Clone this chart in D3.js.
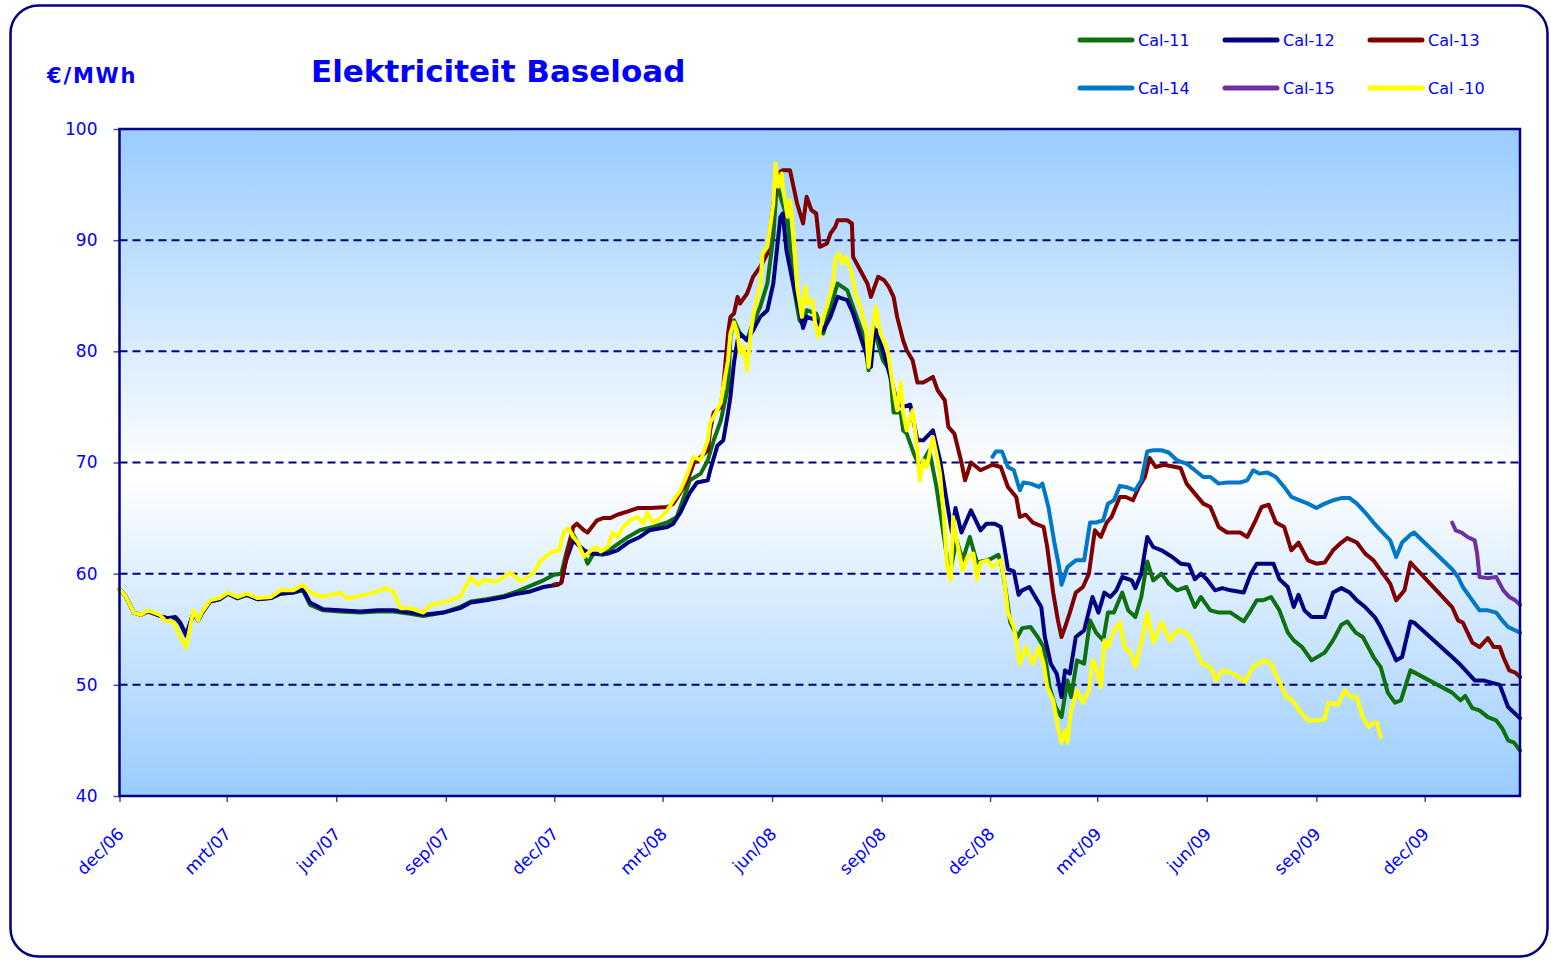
<!DOCTYPE html>
<html><head><meta charset="utf-8">
<script src="https://cdn.jsdelivr.net/npm/d3@7"></script>
<style>body{margin:0;background:#fff;} svg{display:block;}</style>
</head><body>
<svg id="chart" width="1551" height="961"></svg>
<script>
// ---------------- DATA ----------------
const seriesNames = ["Cal-11","Cal-12","Cal-13","Cal-14","Cal-15","Cal -10"];
const yTicks = [40,50,60,70,80,90,100];
const monthNamesNL = ["jan","feb","mrt","apr","mei","jun","jul","aug","sep","okt","nov","dec"];
const titleText = "Elektriciteit Baseload";
const unitText = "€/MWh";

const cal10 = [["2006-12-01",58.6],["2006-12-06",58.0],["2006-12-13",56.5],["2006-12-19",56.3],["2006-12-25",56.7],["2006-12-30",56.5],["2007-01-04",56.3],["2007-01-09",55.7],["2007-01-13",55.8],["2007-01-17",55.4],["2007-01-21",54.3],["2007-01-26",53.4],["2007-02-01",56.7],["2007-02-05",55.8],["2007-02-08",56.5],["2007-02-15",57.6],["2007-02-23",57.8],["2007-03-02",58.3],["2007-03-10",57.9],["2007-03-18",58.2],["2007-03-27",57.8],["2007-04-07",57.9],["2007-04-15",58.5],["2007-04-26",58.5],["2007-05-04",59.0],["2007-05-10",58.3],["2007-05-21",57.9],["2007-06-04",58.3],["2007-06-10",57.8],["2007-06-21",58.0],["2007-07-06",58.4],["2007-07-12",58.7],["2007-07-19",58.4],["2007-07-25",56.9],["2007-08-02",56.9],["2007-08-13",56.5],["2007-08-19",57.2],["2007-08-30",57.4],["2007-09-13",57.9],["2007-09-22",59.7],["2007-09-28",59.0],["2007-10-03",59.4],["2007-10-14",59.3],["2007-10-25",60.1],["2007-11-03",59.3],["2007-11-14",60.1],["2007-11-20",61.2],["2007-11-28",61.9],["2007-12-05",62.1],["2007-12-09",63.7],["2007-12-13",64.1],["2007-12-17",63.3],["2007-12-21",62.8],["2007-12-26",61.5],["2008-01-01",62.1],["2008-01-05",62.4],["2008-01-09",62.0],["2008-01-15",62.4],["2008-01-19",63.7],["2008-01-23",63.3],["2008-01-28",64.2],["2008-02-03",64.8],["2008-02-09",65.1],["2008-02-14",64.5],["2008-02-17",65.5],["2008-02-22",64.6],["2008-02-28",65.0],["2008-03-05",65.7],["2008-03-10",66.6],["2008-03-16",67.5],["2008-03-22",69.0],["2008-03-27",70.5],["2008-04-02",70.2],["2008-04-04",70.8],["2008-04-08",72.0],["2008-04-10",73.6],["2008-04-13",74.1],["2008-04-19",75.4],["2008-04-21",76.8],["2008-04-25",79.2],["2008-04-27",81.6],["2008-04-30",82.6],["2008-05-03",81.6],["2008-05-05",79.8],["2008-05-08",80.4],["2008-05-11",78.3],["2008-05-14",81.6],["2008-05-16",83.1],["2008-05-19",84.6],["2008-05-22",85.8],["2008-05-24",88.8],["2008-05-28",89.4],["2008-05-30",90.9],["2008-06-02",93.3],["2008-06-04",96.9],["2008-06-06",94.8],["2008-06-09",96.0],["2008-06-10",94.8],["2008-06-14",92.1],["2008-06-16",93.6],["2008-06-19",90.6],["2008-06-22",85.8],["2008-06-26",83.1],["2008-06-29",85.8],["2008-07-01",84.3],["2008-07-05",84.6],["2008-07-07",82.6],["2008-07-10",81.3],["2008-07-13",82.8],["2008-07-17",84.0],["2008-07-20",85.2],["2008-07-22",86.1],["2008-07-24",88.2],["2008-07-27",88.8],["2008-07-30",87.9],["2008-08-02",88.5],["2008-08-06",87.3],["2008-08-10",85.2],["2008-08-14",84.0],["2008-08-19",81.9],["2008-08-21",78.6],["2008-08-25",82.8],["2008-08-27",84.0],["2008-08-31",81.6],["2008-09-06",80.1],["2008-09-10",77.2],["2008-09-14",74.7],["2008-09-17",77.2],["2008-09-19",74.5],["2008-09-22",72.9],["2008-09-27",74.7],["2008-10-01",71.1],["2008-10-03",68.4],["2008-10-06",70.2],["2008-10-09",69.6],["2008-10-14",72.3],["2008-10-18",70.2],["2008-10-20",69.0],["2008-10-23",65.5],["2008-10-26",60.6],["2008-10-29",59.4],["2008-10-31",65.1],["2008-11-03",63.0],["2008-11-08",60.3],["2008-11-12",61.5],["2008-11-17",61.8],["2008-11-20",59.5],["2008-11-23",61.0],["2008-11-29",61.2],["2008-12-03",60.6],["2008-12-10",61.2],["2008-12-13",59.4],["2008-12-16",56.5],["2008-12-21",55.2],["2008-12-26",51.9],["2008-12-31",53.4],["2009-01-06",51.9],["2009-01-11",53.4],["2009-01-15",51.9],["2009-01-18",49.8],["2009-01-23",48.6],["2009-01-27",46.2],["2009-01-30",44.8],["2009-02-02",45.9],["2009-02-04",44.8],["2009-02-07",47.7],["2009-02-12",49.5],["2009-02-17",48.4],["2009-02-22",49.5],["2009-02-25",52.2],["2009-02-28",51.6],["2009-03-04",49.8],["2009-03-07",54.0],["2009-03-10",53.4],["2009-03-14",54.7],["2009-03-20",55.6],["2009-03-24",53.4],["2009-03-29",52.9],["2009-04-02",51.6],["2009-04-07",53.8],["2009-04-12",56.5],["2009-04-17",53.8],["2009-04-24",55.6],["2009-05-01",54.0],["2009-05-07",54.9],["2009-05-15",54.7],["2009-05-22",53.4],["2009-05-28",51.9],["2009-06-04",51.6],["2009-06-09",50.4],["2009-06-14",51.3],["2009-06-21",51.1],["2009-06-28",50.7],["2009-07-03",50.3],["2009-07-10",51.6],["2009-07-19",52.2],["2009-07-25",51.9],["2009-07-30",50.7],["2009-08-07",48.9],["2009-08-12",48.6],["2009-08-19",47.5],["2009-08-25",46.8],["2009-09-01",46.8],["2009-09-08",46.9],["2009-09-11",48.4],["2009-09-19",48.2],["2009-09-25",49.5],["2009-09-30",48.9],["2009-10-05",48.9],["2009-10-10",47.1],["2009-10-15",46.2],["2009-10-19",46.6],["2009-10-22",46.6],["2009-10-25",45.3]];

const cal12 = [["2006-12-01",58.6],["2006-12-06",58.0],["2006-12-13",56.5],["2006-12-19",56.3],["2006-12-25",56.6],["2006-12-30",56.4],["2007-01-04",56.2],["2007-01-10",56.0],["2007-01-17",56.1],["2007-01-21",55.6],["2007-01-26",54.5],["2007-02-01",56.5],["2007-02-05",55.8],["2007-02-08",56.4],["2007-02-15",57.5],["2007-02-23",57.7],["2007-03-02",58.2],["2007-03-10",57.8],["2007-03-18",58.1],["2007-03-27",57.7],["2007-04-07",57.8],["2007-04-15",58.2],["2007-04-26",58.3],["2007-05-04",58.6],["2007-05-10",57.4],["2007-05-21",56.8],["2007-06-04",56.7],["2007-06-21",56.6],["2007-07-06",56.7],["2007-07-19",56.7],["2007-08-02",56.5],["2007-08-13",56.3],["2007-08-30",56.5],["2007-09-13",56.9],["2007-09-22",57.4],["2007-10-05",57.6],["2007-10-20",57.9],["2007-10-31",58.2],["2007-11-11",58.4],["2007-11-22",58.8],["2007-12-04",59.0],["2007-12-07",59.2],["2007-12-11",61.2],["2007-12-17",63.0],["2007-12-26",62.1],["2008-01-01",61.8],["2008-01-09",61.8],["2008-01-15",61.8],["2008-01-23",62.1],["2008-02-01",62.8],["2008-02-11",63.3],["2008-02-19",63.9],["2008-03-05",64.2],["2008-03-10",64.5],["2008-03-16",65.5],["2008-03-24",67.3],["2008-03-30",68.2],["2008-04-08",68.4],["2008-04-10",69.3],["2008-04-16",71.5],["2008-04-21",72.0],["2008-04-25",74.5],["2008-04-27",75.9],["2008-04-30",79.0],["2008-05-03",81.0],["2008-05-05",81.6],["2008-05-11",81.0],["2008-05-16",81.9],["2008-05-22",83.1],["2008-05-28",83.7],["2008-06-02",86.1],["2008-06-08",92.1],["2008-06-10",92.4],["2008-06-13",89.1],["2008-06-18",86.4],["2008-06-24",83.7],["2008-06-27",82.1],["2008-06-30",83.1],["2008-07-08",82.8],["2008-07-14",81.9],["2008-07-20",83.1],["2008-07-26",84.9],["2008-08-03",84.6],["2008-08-08",83.4],["2008-08-17",80.4],["2008-08-23",78.6],["2008-08-25",81.0],["2008-08-28",81.9],["2008-09-06",78.6],["2008-09-14",75.4],["2008-09-19",75.0],["2008-09-25",75.2],["2008-10-01",72.0],["2008-10-06",72.0],["2008-10-14",72.9],["2008-10-20",70.2],["2008-10-26",66.3],["2008-10-30",63.7],["2008-11-02",65.9],["2008-11-07",63.7],["2008-11-15",65.7],["2008-11-23",63.9],["2008-11-28",64.5],["2008-12-05",64.5],["2008-12-10",64.2],["2008-12-13",62.4],["2008-12-16",60.4],["2008-12-21",60.2],["2008-12-25",58.1],["2008-12-28",58.5],["2009-01-03",58.8],["2009-01-08",57.9],["2009-01-13",57.0],["2009-01-16",54.3],["2009-01-21",51.9],["2009-01-26",51.0],["2009-01-30",48.9],["2009-02-02",51.3],["2009-02-06",51.0],["2009-02-11",54.3],["2009-02-18",54.9],["2009-02-25",57.9],["2009-03-02",56.5],["2009-03-07",58.3],["2009-03-12",57.9],["2009-03-17",58.5],["2009-03-22",59.7],["2009-03-30",59.4],["2009-04-02",58.7],["2009-04-07",60.0],["2009-04-12",63.3],["2009-04-17",62.4],["2009-04-24",62.1],["2009-05-03",61.5],["2009-05-10",60.9],["2009-05-17",60.8],["2009-05-22",59.5],["2009-05-27",60.0],["2009-06-01",59.5],["2009-06-08",58.5],["2009-06-14",58.7],["2009-06-21",58.5],["2009-07-02",58.3],["2009-07-08",60.0],["2009-07-13",60.9],["2009-07-18",60.9],["2009-07-27",60.9],["2009-08-01",59.5],["2009-08-08",58.8],["2009-08-13",57.0],["2009-08-17",58.1],["2009-08-22",56.7],["2009-08-28",56.1],["2009-09-08",56.1],["2009-09-15",58.3],["2009-09-22",58.7],["2009-09-29",58.3],["2009-10-05",57.6],["2009-10-12",57.0],["2009-10-20",56.1],["2009-10-25",55.2],["2009-11-02",53.4],["2009-11-07",52.2],["2009-11-12",52.5],["2009-11-19",55.7],["2009-11-22",55.6],["2009-12-24",52.5],["2009-12-31",51.8],["2010-01-06",51.1],["2010-01-12",50.4],["2010-01-19",50.4],["2010-01-26",50.2],["2010-02-02",50.0],["2010-02-09",48.0],["2010-02-14",47.5],["2010-02-19",47.0]];

const cal11 = [["2006-12-01",58.6],["2006-12-06",58.0],["2006-12-13",56.5],["2006-12-19",56.3],["2006-12-25",56.6],["2006-12-30",56.4],["2007-01-04",56.2],["2007-01-10",56.0],["2007-01-17",56.0],["2007-01-21",55.5],["2007-01-26",54.4],["2007-02-01",56.4],["2007-02-05",55.8],["2007-02-08",56.4],["2007-02-15",57.5],["2007-02-23",57.7],["2007-03-02",58.2],["2007-03-10",57.8],["2007-03-18",58.1],["2007-03-27",57.7],["2007-04-07",57.8],["2007-04-15",58.2],["2007-04-26",58.3],["2007-05-04",58.5],["2007-05-10",57.2],["2007-05-21",56.7],["2007-06-04",56.6],["2007-06-21",56.5],["2007-07-06",56.6],["2007-07-19",56.6],["2007-08-02",56.4],["2007-08-13",56.2],["2007-08-30",56.5],["2007-09-13",57.0],["2007-09-22",57.5],["2007-10-05",57.7],["2007-10-20",58.0],["2007-10-31",58.4],["2007-11-11",58.9],["2007-11-22",59.4],["2007-12-01",59.9],["2007-12-07",60.0],["2007-12-11",61.8],["2007-12-16",63.7],["2007-12-26",61.8],["2007-12-29",60.9],["2008-01-03",61.8],["2008-01-11",61.7],["2008-01-20",62.4],["2008-02-01",63.3],["2008-02-11",63.9],["2008-02-22",64.2],["2008-03-05",64.6],["2008-03-13",65.1],["2008-03-18",66.6],["2008-03-24",68.4],["2008-04-02",69.0],["2008-04-08",70.2],["2008-04-13",72.0],["2008-04-19",73.8],["2008-04-25",76.8],["2008-04-27",81.3],["2008-04-30",82.8],["2008-05-05",81.6],["2008-05-11",81.0],["2008-05-16",82.6],["2008-05-22",84.0],["2008-05-28",86.1],["2008-06-02",90.3],["2008-06-05",95.1],["2008-06-09",93.6],["2008-06-14",91.8],["2008-06-19",85.8],["2008-06-24",82.8],["2008-06-27",82.4],["2008-06-30",83.7],["2008-07-08",83.4],["2008-07-14",81.6],["2008-07-20",84.0],["2008-07-26",86.1],["2008-08-03",85.5],["2008-08-08",84.0],["2008-08-17",81.3],["2008-08-21",78.3],["2008-08-25",82.2],["2008-09-02",79.2],["2008-09-08",78.3],["2008-09-11",74.5],["2008-09-17",74.5],["2008-09-19",72.9],["2008-09-22",72.6],["2008-09-28",70.8],["2008-10-03",69.6],["2008-10-11",71.1],["2008-10-17",67.8],["2008-10-22",64.2],["2008-10-28",60.0],["2008-11-03",63.0],["2008-11-08",61.2],["2008-11-14",63.3],["2008-11-20",61.0],["2008-11-28",61.2],["2008-12-03",61.4],["2008-12-08",61.7],["2008-12-11",60.6],["2008-12-15",57.9],["2008-12-18",55.6],["2008-12-24",54.3],["2008-12-28",55.1],["2009-01-04",55.2],["2009-01-10",54.3],["2009-01-15",53.4],["2009-01-20",49.8],["2009-01-25",48.0],["2009-01-30",47.1],["2009-02-04",50.4],["2009-02-07",48.9],["2009-02-12",52.2],["2009-02-18",51.9],["2009-02-23",55.8],["2009-02-28",54.7],["2009-03-06",54.0],["2009-03-10",56.5],["2009-03-15",56.5],["2009-03-22",58.3],["2009-03-27",56.7],["2009-04-02",56.1],["2009-04-07",57.9],["2009-04-12",61.1],["2009-04-17",59.4],["2009-04-24",60.0],["2009-04-30",59.1],["2009-05-07",58.5],["2009-05-15",58.8],["2009-05-22",57.0],["2009-05-27",57.9],["2009-06-04",56.7],["2009-06-11",56.5],["2009-06-21",56.5],["2009-07-02",55.7],["2009-07-08",56.7],["2009-07-13",57.6],["2009-07-18",57.6],["2009-07-25",57.9],["2009-08-01",56.7],["2009-08-08",54.7],["2009-08-13",54.0],["2009-08-20",53.4],["2009-08-28",52.2],["2009-09-08",52.9],["2009-09-15",54.0],["2009-09-22",55.4],["2009-09-27",55.7],["2009-10-04",54.7],["2009-10-10",54.3],["2009-10-19",52.5],["2009-10-25",51.6],["2009-10-31",49.3],["2009-11-06",48.4],["2009-11-11",48.6],["2009-11-19",51.3],["2009-12-24",49.3],["2009-12-31",48.6],["2010-01-04",49.0],["2010-01-10",47.9],["2010-01-16",47.7],["2010-01-23",47.1],["2010-01-30",46.8],["2010-02-04",46.1],["2010-02-09",45.0],["2010-02-14",44.8],["2010-02-19",44.1]];

const cal13 = [["2007-12-01",59.0],["2007-12-07",59.2],["2007-12-12",61.8],["2007-12-17",64.2],["2007-12-20",64.5],["2007-12-26",63.9],["2007-12-29",63.7],["2008-01-06",64.8],["2008-01-11",65.0],["2008-01-17",65.0],["2008-01-23",65.3],["2008-02-01",65.6],["2008-02-09",65.9],["2008-02-20",65.9],["2008-03-05",66.0],["2008-03-10",66.3],["2008-03-16",67.3],["2008-03-22",68.4],["2008-03-27",69.9],["2008-04-02",70.5],["2008-04-08",71.1],["2008-04-10",72.9],["2008-04-13",74.5],["2008-04-19",75.0],["2008-04-21",76.8],["2008-04-25",81.6],["2008-04-27",83.1],["2008-04-30",83.4],["2008-05-03",84.9],["2008-05-05",84.3],["2008-05-11",85.2],["2008-05-16",86.7],["2008-05-22",87.6],["2008-05-28",88.8],["2008-06-02",93.3],["2008-06-06",96.0],["2008-06-10",96.3],["2008-06-16",96.3],["2008-06-19",94.8],["2008-06-22",93.3],["2008-06-27",91.5],["2008-06-30",93.9],["2008-07-04",92.7],["2008-07-08",92.4],["2008-07-11",89.4],["2008-07-17",89.7],["2008-07-20",90.6],["2008-07-24",91.2],["2008-07-26",91.8],["2008-08-03",91.8],["2008-08-07",91.5],["2008-08-08",88.5],["2008-08-14",87.3],["2008-08-20",86.1],["2008-08-23",84.9],["2008-08-29",86.7],["2008-09-03",86.4],["2008-09-07",85.8],["2008-09-11",84.9],["2008-09-14",83.1],["2008-09-19",81.0],["2008-09-22",80.1],["2008-09-27",79.2],["2008-10-01",77.2],["2008-10-06",77.2],["2008-10-14",77.7],["2008-10-18",76.5],["2008-10-24",75.6],["2008-10-27",73.2],["2008-11-01",72.6],["2008-11-07",70.0],["2008-11-10",68.4],["2008-11-15",70.0],["2008-11-23",69.3],["2008-12-03",69.8],["2008-12-10",69.6],["2008-12-16",67.8],["2008-12-23",66.9],["2008-12-26",65.1],["2008-12-31",65.3],["2009-01-06",64.6],["2009-01-15",64.2],["2009-01-18",62.4],["2009-01-23",58.3],["2009-01-27",55.8],["2009-01-30",54.3],["2009-02-02",55.2],["2009-02-06",56.5],["2009-02-11",58.3],["2009-02-17",58.8],["2009-02-22",60.0],["2009-02-27",63.9],["2009-03-04",63.3],["2009-03-09",64.6],["2009-03-13",65.1],["2009-03-20",66.9],["2009-03-25",66.9],["2009-03-31",66.6],["2009-04-05",67.8],["2009-04-10",68.7],["2009-04-14",70.4],["2009-04-19",69.6],["2009-04-26",69.8],["2009-05-10",69.5],["2009-05-15",68.1],["2009-05-22",67.2],["2009-05-29",66.3],["2009-06-04",66.0],["2009-06-11",64.2],["2009-06-18",63.7],["2009-06-29",63.7],["2009-07-05",63.3],["2009-07-12",64.8],["2009-07-17",66.0],["2009-07-23",66.2],["2009-07-29",64.6],["2009-08-05",64.2],["2009-08-11",62.1],["2009-08-17",62.8],["2009-08-25",61.2],["2009-09-01",60.9],["2009-09-08",61.0],["2009-09-15",62.1],["2009-09-22",62.8],["2009-09-27",63.2],["2009-10-05",62.8],["2009-10-12",61.8],["2009-10-19",61.2],["2009-10-25",60.3],["2009-11-02",59.1],["2009-11-07",57.6],["2009-11-14",58.5],["2009-11-19",61.0],["2009-12-24",57.0],["2009-12-29",55.8],["2010-01-02",55.6],["2010-01-10",53.8],["2010-01-16",53.4],["2010-01-23",54.2],["2010-01-28",53.4],["2010-02-02",53.4],["2010-02-05",52.5],["2010-02-10",51.3],["2010-02-15",51.1],["2010-02-19",50.7]];

const cal14 = [["2008-12-03",70.5],["2008-12-06",71.0],["2008-12-11",71.0],["2008-12-16",69.6],["2008-12-21",69.3],["2008-12-26",67.5],["2008-12-29",68.2],["2009-01-04",68.1],["2009-01-11",67.8],["2009-01-14",68.1],["2009-01-19",66.0],["2009-01-24",62.8],["2009-01-28",60.6],["2009-01-30",59.0],["2009-02-04",60.6],["2009-02-11",61.2],["2009-02-18",61.2],["2009-02-23",64.6],["2009-02-28",64.6],["2009-03-06",64.8],["2009-03-10",66.3],["2009-03-15",66.6],["2009-03-20",67.9],["2009-03-25",67.8],["2009-04-02",67.5],["2009-04-07",68.4],["2009-04-12",71.0],["2009-04-17",71.1],["2009-04-24",71.1],["2009-04-30",70.9],["2009-05-07",70.2],["2009-05-15",69.9],["2009-05-22",69.3],["2009-05-29",68.7],["2009-06-04",68.7],["2009-06-11",68.1],["2009-06-18",68.2],["2009-06-29",68.2],["2009-07-05",68.4],["2009-07-10",69.3],["2009-07-15",69.0],["2009-07-22",69.1],["2009-07-29",68.7],["2009-08-05",67.8],["2009-08-11",66.9],["2009-08-18",66.6],["2009-08-25",66.3],["2009-09-01",65.9],["2009-09-08",66.3],["2009-09-15",66.6],["2009-09-22",66.8],["2009-09-29",66.8],["2009-10-05",66.3],["2009-10-12",65.5],["2009-10-19",64.6],["2009-10-25",63.9],["2009-11-02",63.0],["2009-11-07",61.5],["2009-11-12",62.8],["2009-11-19",63.5],["2009-11-22",63.7],["2009-12-24",60.4],["2009-12-29",59.7],["2010-01-02",58.8],["2010-01-10",57.6],["2010-01-16",56.7],["2010-01-23",56.7],["2010-01-30",56.5],["2010-02-04",55.8],["2010-02-09",55.2],["2010-02-19",54.7]];

const cal15 = [["2009-12-24",64.6],["2009-12-27",63.9],["2010-01-01",63.7],["2010-01-06",63.3],["2010-01-12",63.0],["2010-01-14",61.8],["2010-01-16",59.7],["2010-01-23",59.6],["2010-01-30",59.7],["2010-02-02",59.1],["2010-02-05",58.5],["2010-02-10",57.9],["2010-02-15",57.6],["2010-02-19",57.2]];

const seriesData = [cal11, cal12, cal13, cal14, cal15, cal10];
const seriesColors = ["#0e700e","#000080","#800000","#0078c8","#7030a0","#ffff00"];
const drawOrder = [0,1,2,3,4,5];

// ---------------- LAYOUT ----------------
const svg = d3.select("#chart");
const plot = {left:119.5, top:129, right:1520, bottom:796};
const parse = d3.timeParse("%Y-%m-%d");
const navy = "#000080";
const txtBlue = "#0000ff";
const font = "'DejaVu Sans', Verdana, sans-serif";

// outer frame
svg.append("rect").attr("x",10.5).attr("y",5.5).attr("width",1537).attr("height",951)
  .attr("rx",28).attr("ry",28).attr("fill","#fff").attr("stroke",navy).attr("stroke-width",2.5);

// gradient
const defs = svg.append("defs");
const grad = defs.append("linearGradient").attr("id","bg").attr("x1",0).attr("y1",0).attr("x2",0).attr("y2",1);
grad.append("stop").attr("offset","0%").attr("stop-color","#99ccff");
grad.append("stop").attr("offset","52%").attr("stop-color","#ffffff");
grad.append("stop").attr("offset","100%").attr("stop-color","#99ccff");

const x = d3.scaleTime().domain([parse("2006-12-01"), parse("2010-02-19")]).range([plot.left, plot.right]);
const y = d3.scaleLinear().domain([40,100]).range([plot.bottom, plot.top]);

svg.append("rect").attr("x",plot.left).attr("y",plot.top)
  .attr("width",plot.right-plot.left).attr("height",plot.bottom-plot.top).attr("fill","url(#bg)");

// gridlines
svg.append("g").selectAll("line").data(yTicks.filter(v => v>40 && v<100)).join("line")
  .attr("x1",plot.left).attr("x2",plot.right).attr("y1",d=>y(d)).attr("y2",d=>y(d))
  .attr("stroke",navy).attr("stroke-width",2).attr("stroke-dasharray","8,5");

// y axis
const yAxis = svg.append("g").attr("transform",`translate(${plot.left},0)`)
  .call(d3.axisLeft(y).tickValues(yTicks).tickSize(6).tickPadding(16));
yAxis.select(".domain").remove();
yAxis.selectAll(".tick line").attr("stroke","#4a4a9a").attr("stroke-width",1.5);
yAxis.selectAll("text").attr("fill",txtBlue).style("font-family",font).style("font-size","17px");

// x axis
const qTicks = x.ticks(d3.timeMonth.filter(d => d.getMonth() % 3 === 2));
const xAxis = svg.append("g").attr("transform",`translate(0,${plot.bottom})`)
  .call(d3.axisBottom(x).tickValues(qTicks).tickSize(6)
    .tickFormat(d => monthNamesNL[d.getMonth()] + "/" + d3.timeFormat("%y")(d)));
xAxis.select(".domain").remove();
xAxis.selectAll(".tick line").attr("stroke","#4a4a9a").attr("stroke-width",1.5);
xAxis.selectAll("text").attr("fill",txtBlue).style("font-family",font).style("font-size","17px")
  .attr("text-anchor","end").attr("x",0).attr("y",0).attr("dy",0)
  .attr("transform","translate(5,39) rotate(-45)");

// series lines
const line = d3.line().x(d => x(parse(d[0]))).y(d => y(d[1]));
const gLines = svg.append("g");
drawOrder.forEach(i => {
  gLines.append("path").datum(seriesData[i]).attr("d",line)
    .attr("fill","none").attr("stroke",seriesColors[i]).attr("stroke-width",4)
    .attr("stroke-linejoin","round").attr("stroke-linecap","round");
});

// plot border
svg.append("rect").attr("x",plot.left).attr("y",plot.top)
  .attr("width",plot.right-plot.left).attr("height",plot.bottom-plot.top)
  .attr("fill","none").attr("stroke",navy).attr("stroke-width",2.5);

// title and unit
svg.append("text").attr("x",311).attr("y",82).text(titleText)
  .attr("fill",txtBlue).style("font-family",font).style("font-weight","bold").style("font-size","31px");
svg.append("text").attr("x",47).attr("y",83).text(unitText)
  .attr("fill",txtBlue).style("font-family",font).style("font-weight","bold").style("font-size","21px")
  .style("letter-spacing","1.8px");

// legend
const legCols = [1080, 1225, 1370];
const legRows = [40, 88];
const leg = svg.append("g");
seriesNames.forEach((name,i) => {
  const cx = legCols[i % 3], cy = legRows[Math.floor(i/3)];
  leg.append("line").attr("x1",cx).attr("x2",cx+52).attr("y1",cy).attr("y2",cy)
    .attr("stroke",seriesColors[i]).attr("stroke-width",5).attr("stroke-linecap","round");
  leg.append("text").attr("x",cx+58).attr("y",cy).attr("dy","0.36em").text(name)
    .attr("fill",txtBlue).style("font-family",font).style("font-size","16px");
});
</script>
</body></html>
